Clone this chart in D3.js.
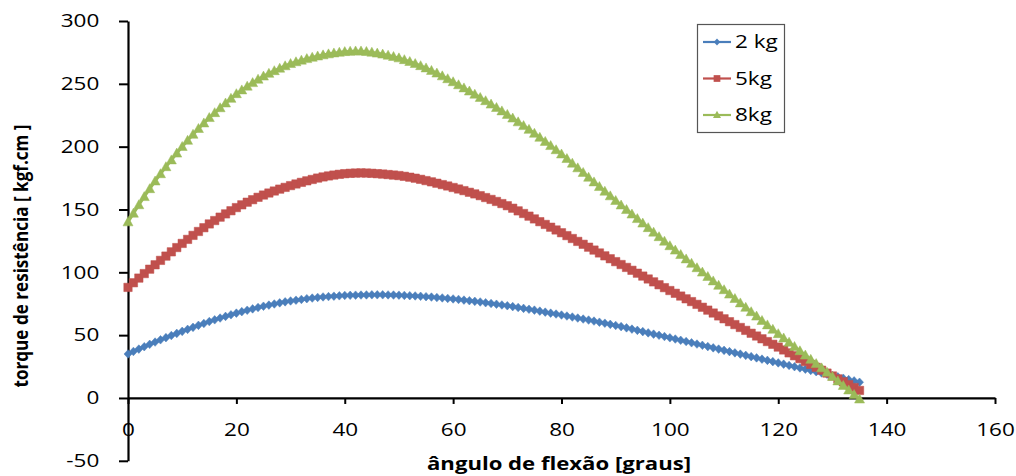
<!DOCTYPE html>
<html>
<head>
<meta charset="utf-8">
<script src="https://cdn.jsdelivr.net/npm/d3@7"></script>
<style>
  html, body { margin: 0; padding: 0; background: #ffffff; }
  svg { display: block; }
  text { font-family: "Open Sans", "DejaVu Sans", sans-serif; fill: #000; }
</style>
</head>
<body>
<svg id="chart" width="1016" height="476"></svg>
<script>
// ---- data ----
const angles = d3.range(0, 136, 1); // flexion angle in degrees, one point per degree

const series2kg = [
  35, 37, 38.9, 40.8, 42.7, 44.5,
  46.3, 48, 49.7, 51.4, 53,
  54.6, 56.2, 57.8, 59.3, 60.8,
  62.2, 63.6, 64.9, 66.2, 67.5,
  68.7, 69.8, 70.9, 72, 73,
  73.9, 74.8, 75.7, 76.5, 77.2,
  77.8, 78.4, 79, 79.5, 80,
  80.4, 80.7, 81, 81.3, 81.6,
  81.7, 81.8, 81.9, 82, 82.1,
  82.1, 82.1, 82, 81.9, 81.8,
  81.6, 81.4, 81.2, 80.9, 80.6,
  80.3, 79.9, 79.6, 79.2, 78.8,
  78.4, 77.9, 77.4, 76.9, 76.4,
  75.8, 75.2, 74.6, 74, 73.4,
  72.7, 72, 71.3, 70.6, 69.9,
  69.1, 68.3, 67.5, 66.8, 66,
  65.2, 64.4, 63.6, 62.8, 62,
  61.2, 60.3, 59.5, 58.6, 57.7,
  56.8, 55.8, 54.8, 53.8, 52.8,
  51.8, 50.8, 49.9, 48.9, 47.9,
  46.9, 45.9, 44.9, 43.9, 42.9,
  41.9, 40.9, 39.9, 38.9, 37.9,
  36.9, 35.9, 34.9, 33.9, 32.9,
  31.9, 30.9, 29.9, 28.9, 27.9,
  26.9, 25.9, 24.9, 23.9, 22.9,
  21.9, 20.9, 19.9, 18.9, 17.9,
  16.8, 15.7, 14.6, 13.6, 12.5
];

const series5kg = [
  88, 91.7, 95.4, 99, 102.5, 106,
  109.5, 112.9, 116.3, 119.7, 123,
  126.2, 129.4, 132.5, 135.5, 138.5,
  141.2, 143.9, 146.5, 149, 151.5,
  153.7, 155.8, 157.8, 159.7, 161.5,
  163.1, 164.7, 166.2, 167.6, 169,
  170.3, 171.6, 172.8, 173.9, 175,
  175.9, 176.7, 177.4, 178, 178.5,
  178.8, 179, 179.1, 179, 178.8,
  178.5, 178.2, 177.8, 177.4, 177,
  176.4, 175.7, 174.9, 174, 173,
  172, 170.9, 169.8, 168.7, 167.5,
  166.3, 165, 163.7, 162.4, 161,
  159.5, 158, 156.4, 154.7, 153,
  151, 148.9, 146.8, 144.7, 142.5,
  140.3, 138.1, 135.9, 133.7, 131.5,
  129.2, 126.9, 124.6, 122.3, 120,
  117.7, 115.4, 113.1, 110.8, 108.5,
  106.2, 103.9, 101.6, 99.3, 97,
  94.7, 92.4, 90.1, 87.8, 85.5,
  83.3, 81.1, 78.9, 76.7, 74.5,
  72.2, 69.9, 67.6, 65.3, 63,
  60.7, 58.4, 56.1, 53.8, 51.5,
  49.3, 47.1, 44.9, 42.7, 40.5,
  38.2, 35.9, 33.6, 31.3, 29,
  26.7, 24.4, 22.1, 19.8, 17.5,
  15.2, 12.9, 10.6, 8.3, 6
];

const series8kg = [
  140, 146.9, 153.6, 160.1, 166.4, 172.5,
  178.3, 183.9, 189.3, 194.7, 200,
  204.9, 209.7, 214.3, 218.7, 223,
  226.9, 230.8, 234.6, 238.3, 242,
  245, 248, 250.8, 253.5, 256,
  258.2, 260.3, 262.3, 264.2, 266,
  267.4, 268.7, 269.9, 271, 272,
  272.9, 273.7, 274.4, 275, 275.5,
  275.8, 276, 276, 275.6, 275,
  274.3, 273.5, 272.6, 271.6, 270.5,
  269.1, 267.6, 266, 264.3, 262.5,
  260.5, 258.4, 256.2, 253.9, 251.5,
  249.1, 246.6, 244.1, 241.6, 239,
  236.4, 233.7, 231, 228.3, 225.5,
  222.6, 219.6, 216.6, 213.6, 210.5,
  207.3, 204, 200.7, 197.4, 194,
  190.4, 186.7, 183, 179.3, 175.5,
  171.8, 168.1, 164.4, 160.7, 157,
  153.4, 149.8, 146.2, 142.6, 139,
  135.4, 131.8, 128.2, 124.6, 121,
  117.5, 114, 110.5, 107, 103.5,
  100, 96.5, 93, 89.5, 86,
  82.5, 79, 75.5, 72, 68.5,
  65, 61.5, 58, 54.5, 51,
  47.6, 44.2, 40.8, 37.4, 34,
  30.6, 27.2, 23.8, 20.4, 17,
  13.4, 9.8, 6.2, 2.6, -1
];

const seriesNames = ["2 kg", "5kg", "8kg"];
const seriesColors = ["#4A7EBB", "#C0504D", "#9BBB59"];
const seriesMarkers = ["diamond", "square", "triangle"];
const xTicks = [0, 20, 40, 60, 80, 100, 120, 140, 160];
const yTicks = [-50, 0, 50, 100, 150, 200, 250, 300];
const xTitle = "ângulo de flexão [graus]";
const yTitle = "torque de resistência [ kgf.cm ]";

// ---- drawing ----
const svg = d3.select("#chart");
const x = d3.scaleLinear().domain([0, 160]).range([128, 995]);
const y = d3.scaleLinear().domain([-50, 300]).range([460.8, 21]);

const allSeries = [series2kg, series5kg, series8kg];
const stretch = 1.25; // the reference's lettering is horizontally stretched
const plainFormat = d => String(d); // hyphen-minus like the reference

const markerPath = {
  diamond: "M0,-4.3L4,0L0,4.3L-4,0Z",
  square: "M-4.2,-4.2H4.2V4.2H-4.2Z",
  triangle: "M0,-5.2L5,3.8L-5,3.8Z"
};

// axes
const yAxis = d3.axisLeft(y).tickValues(yTicks).tickFormat(plainFormat)
  .tickSize(9).tickSizeOuter(0).tickPadding(14);
const gy = svg.append("g").attr("transform", `translate(${x(0)},0)`).call(yAxis);
gy.select(".domain").attr("stroke", "#000").attr("stroke-width", 2.2);
gy.selectAll(".tick line").attr("stroke", "#000").attr("stroke-width", 2);
gy.selectAll(".tick text").style("font-size", "18px")
  .attr("transform", `scale(${stretch},1)`);

const xAxis = d3.axisBottom(x).tickValues(xTicks).tickFormat(plainFormat)
  .tickSize(6).tickSizeOuter(0).tickPadding(19);
const gx = svg.append("g").attr("transform", `translate(0,${y(0)})`).call(xAxis);
gx.select(".domain").attr("stroke", "#000").attr("stroke-width", 2.2);
gx.selectAll(".tick line").attr("stroke", "#000").attr("stroke-width", 2);
gx.selectAll(".tick text").style("font-size", "18px")
  .attr("transform", `scale(${stretch},1)`);

// series
const line = d3.line().x((d, i) => x(angles[i])).y(d => y(d));
allSeries.forEach((vals, s) => {
  const g = svg.append("g");
  g.append("path").datum(vals)
    .attr("d", line)
    .attr("fill", "none")
    .attr("stroke", seriesColors[s])
    .attr("stroke-width", 3);
  g.selectAll("path.mk").data(vals).join("path")
    .attr("class", "mk")
    .attr("d", markerPath[seriesMarkers[s]])
    .attr("transform", (d, i) => `translate(${x(angles[i])},${y(d)})`)
    .attr("fill", seriesColors[s])
    .attr("stroke", seriesColors[s])
    .attr("stroke-width", 0.5);
});

// axis titles
svg.append("text")
  .attr("x", 559).attr("y", 470)
  .attr("text-anchor", "middle")
  .attr("textLength", 264).attr("lengthAdjust", "spacingAndGlyphs")
  .style("font-size", "18px").style("font-weight", "bold")
  .text(xTitle);

svg.append("text")
  .attr("transform", "translate(28,256) rotate(-90)")
  .attr("text-anchor", "middle")
  .attr("textLength", 263).attr("lengthAdjust", "spacingAndGlyphs")
  .style("font-size", "19px").style("font-weight", "bold")
  .text(yTitle);

// legend
const lg = svg.append("g");
lg.append("rect")
  .attr("x", 697.5).attr("y", 24.5).attr("width", 87).attr("height", 108)
  .attr("fill", "#fff").attr("stroke", "#555").attr("stroke-width", 1.2);
seriesNames.forEach((name, s) => {
  const cy = 42 + s * 36.5;
  lg.append("line").attr("x1", 703).attr("x2", 731).attr("y1", cy).attr("y2", cy)
    .attr("stroke", seriesColors[s]).attr("stroke-width", 2.2);
  lg.append("path").attr("d", markerPath[seriesMarkers[s]])
    .attr("transform", `translate(717,${cy}) scale(0.8)`)
    .attr("fill", seriesColors[s]);
  lg.append("text")
    .attr("transform", `translate(735,${cy}) scale(${stretch},1)`)
    .attr("dy", "0.36em")
    .style("font-size", "18px").text(name);
});
</script>
</body>
</html>
